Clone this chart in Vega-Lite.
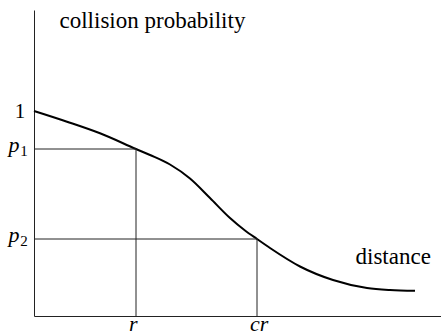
{
  "$schema": "https://vega.github.io/schema/vega-lite/v6.json",
  "width": 407,
  "height": 306,
  "autosize": "none",
  "padding": {"left": 34, "top": 10, "right": 0, "bottom": 19},
  "background": "white",
  "config": {"view": {"stroke": null}, "font": "Liberation Serif, Times New Roman, serif"},
  "datasets": {
    "curve": [
      {"d": 0, "p": 1.0},
      {"d": 0.3235, "p": 0.9478},
      {"d": 0.6471, "p": 0.8912},
      {"d": 1.0, "p": 0.8146},
      {"d": 1.1373, "p": 0.7854},
      {"d": 1.3333, "p": 0.739},
      {"d": 1.5294, "p": 0.6707},
      {"d": 1.7255, "p": 0.5756},
      {"d": 1.9216, "p": 0.478},
      {"d": 2.0686, "p": 0.4171},
      {"d": 2.1863, "p": 0.3756},
      {"d": 2.3137, "p": 0.3317},
      {"d": 2.6078, "p": 0.2415},
      {"d": 2.9314, "p": 0.1756},
      {"d": 3.2647, "p": 0.1366},
      {"d": 3.4902, "p": 0.1268},
      {"d": 3.7353, "p": 0.1229}
    ],
    "levels": [
      {"name": "r", "dist": 1.0, "prob": 0.8146, "sub": "1"},
      {"name": "cr", "dist": 2.1863, "prob": 0.3756, "sub": "2"}
    ]
  },
  "layer": [
    {
      "data": {"name": "curve"},
      "mark": {"type": "line", "color": "black", "strokeWidth": 2, "interpolate": "monotone"},
      "encoding": {
        "x": {"field": "d", "type": "quantitative", "scale": {"domain": [0, 3.99], "nice": false, "zero": false},
          "axis": {"values": [], "domainColor": "#222", "domainWidth": 1, "ticks": false, "labels": false, "grid": false,
            "title": "distance", "titleFontSize": 23, "titleFontWeight": "normal", "titleColor": "black",
            "titleAnchor": "start", "titleAlign": "left", "titleBaseline": "alphabetic", "titleX": 321, "titleY": -53}},
        "y": {"field": "p", "type": "quantitative", "scale": {"domain": [0, 1.4927], "nice": false, "zero": false},
          "axis": {"values": [], "domainColor": "#222", "domainWidth": 1, "ticks": false, "labels": false, "grid": false,
            "title": "collision probability", "titleAngle": 0, "titleFontSize": 23, "titleFontWeight": "normal", "titleColor": "black",
            "titleAlign": "left", "titleBaseline": "alphabetic", "titleX": 25, "titleY": 17}}
      }
    },
    {
      "data": {"name": "levels"},
      "mark": {"type": "rule", "color": "#222", "strokeWidth": 1},
      "encoding": {
        "x": {"field": "dist", "type": "quantitative"},
        "x2": {"datum": 0},
        "y": {"field": "prob", "type": "quantitative"}
      }
    },
    {
      "data": {"name": "levels"},
      "mark": {"type": "rule", "color": "#222", "strokeWidth": 1},
      "encoding": {
        "x": {"field": "dist", "type": "quantitative"},
        "y": {"field": "prob", "type": "quantitative"},
        "y2": {"datum": 0}
      }
    },
    {
      "data": {"name": "levels"},
      "mark": {"type": "text", "fontSize": 22, "fontStyle": "italic", "align": "center", "baseline": "alphabetic", "dx": -20, "dy": 3},
      "encoding": {
        "x": {"datum": 0, "type": "quantitative"},
        "y": {"field": "prob", "type": "quantitative"},
        "text": {"value": "p"}
      }
    },
    {
      "data": {"name": "levels"},
      "mark": {"type": "text", "fontSize": 15, "align": "center", "baseline": "alphabetic", "dx": -10, "dy": 7},
      "encoding": {
        "x": {"datum": 0, "type": "quantitative"},
        "y": {"field": "prob", "type": "quantitative"},
        "text": {"field": "sub"}
      }
    },
    {
      "data": {"name": "levels"},
      "mark": {"type": "text", "fontSize": 22, "fontStyle": "italic", "align": "left", "baseline": "alphabetic", "dx": -7, "dy": 15},
      "encoding": {
        "x": {"field": "dist", "type": "quantitative"},
        "y": {"datum": 0, "type": "quantitative"},
        "text": {"field": "name"}
      }
    },
    {
      "data": {"values": [{"v": 1}]},
      "mark": {"type": "text", "fontSize": 21, "align": "center", "baseline": "alphabetic", "dx": -14, "dy": 7},
      "encoding": {
        "x": {"datum": 0, "type": "quantitative"},
        "y": {"field": "v", "type": "quantitative"},
        "text": {"value": "1"}
      }
    }
  ]
}
